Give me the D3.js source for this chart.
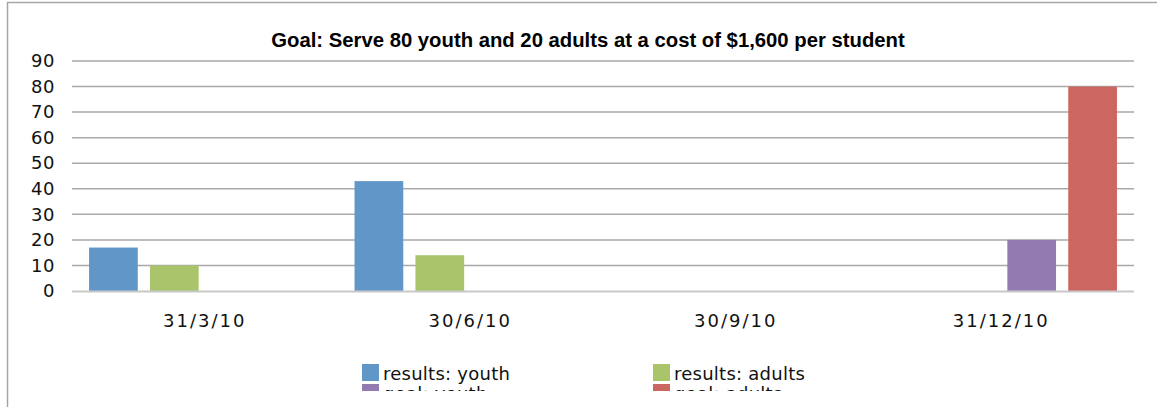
<!DOCTYPE html>
<html>
<head>
<meta charset="utf-8">
<script src="https://cdn.jsdelivr.net/npm/d3@7"></script>
<style>
  body { margin: 0; background: #fff; }
  svg { display: block; }
</style>
</head>
<body>
<div id="chart"></div>
<script>
const categories = ["31/3/10", "30/6/10", "30/9/10", "31/12/10"];
const seriesNames = ["results: youth", "results: adults", "goal: youth", "goal: adults"];
const resultsYouth = [17, 43, null, null];
const resultsAdults = [10, 14, null, null];
const goalYouth = [null, null, null, 20];
const goalAdults = [null, null, null, 80];
const seriesColors = ["#6196c9", "#a9c46b", "#937bb1", "#cc6660"];
const yTicks = [0, 10, 20, 30, 40, 50, 60, 70, 80, 90];
const title = "Goal: Serve 80 youth and 20 adults at a cost of $1,600 per student";

const W = 1157, H = 407;
const margin = {top: 61, right: 23, bottom: 116, left: 72};
const width = W - margin.left - margin.right,
      height = H - margin.top - margin.bottom;

const seriesValues = [resultsYouth, resultsAdults, goalYouth, goalAdults];

const svg = d3.select("#chart")
    .append("svg")
    .attr("width", W)
    .attr("height", H);

// frame
svg.append("path")
    .attr("d", `M7.5,${H} V2.5 H${W}`)
    .attr("fill", "none")
    .attr("stroke", "#a6a6a6")
    .attr("stroke-width", 1.5);

svg.append("defs").append("clipPath")
    .attr("id", "clip")
    .append("rect")
    .attr("x", 0).attr("y", 0)
    .attr("width", W).attr("height", 391);

const root = svg.append("g").attr("clip-path", "url(#clip)");

root.append("text")
    .attr("x", 588)
    .attr("y", 47)
    .attr("text-anchor", "middle")
    .style("font-family", "'Liberation Sans', Arial, sans-serif")
    .style("font-weight", "bold")
    .style("font-size", "20.3px")
    .style("fill", "#000")
    .text(title);

const g = root.append("g")
    .attr("transform", "translate(" + margin.left + "," + margin.top + ")");

const x0 = d3.scaleBand()
    .domain(categories)
    .range([0, width])
    .padding(0);

const x1 = d3.scaleBand()
    .domain(d3.range(seriesNames.length))
    .range([0, x0.bandwidth()])
    .paddingInner(0.2)
    .paddingOuter(0.28);

const y = d3.scaleLinear()
    .domain([0, 90])
    .range([height, 0]);

// gridlines
g.append("g")
    .selectAll("line")
    .data(yTicks.filter(d => d > 0))
    .enter()
    .append("line")
    .attr("x1", 0)
    .attr("x2", width)
    .attr("y1", d => y(d))
    .attr("y2", d => y(d))
    .attr("stroke", "#a9a9a9")
    .attr("stroke-width", 1.5);

// bars
seriesValues.forEach((vals, s) => {
    g.append("g")
        .selectAll("rect")
        .data(vals.map((v, i) => ({cat: categories[i], v: v})).filter(d => d.v != null))
        .enter()
        .append("rect")
        .attr("x", d => x0(d.cat) + x1(s))
        .attr("y", d => y(d.v))
        .attr("width", x1.bandwidth())
        .attr("height", d => height - y(d.v))
        .attr("fill", seriesColors[s]);
});

// baseline
g.append("line")
    .attr("x1", 0)
    .attr("x2", width)
    .attr("y1", y(0) + 0.5)
    .attr("y2", y(0) + 0.5)
    .attr("stroke", "#c8c8c8")
    .attr("stroke-width", 2);

// y axis labels
const yAxis = g.append("g")
    .call(d3.axisLeft(y).tickValues(yTicks).tickSize(0).tickPadding(17));
yAxis.select(".domain").remove();
yAxis.selectAll("text")
    .style("font-family", "'DejaVu Sans', Verdana, sans-serif")
    .style("font-size", "18px")
    .style("letter-spacing", "0.6px")
    .style("fill", "#111");

// x axis labels
const xAxis = g.append("g")
    .attr("transform", "translate(0," + height + ")")
    .call(d3.axisBottom(x0).tickSize(0).tickPadding(23));
xAxis.select(".domain").remove();
xAxis.selectAll("text")
    .style("font-family", "'DejaVu Sans', Verdana, sans-serif")
    .style("font-size", "18px")
    .style("letter-spacing", "2px")
    .style("fill", "#111");

// legend
const legendX = [362, 653], legendY = [364, 384];
const legend = root.append("g");
seriesNames.forEach((name, i) => {
    const lx = legendX[i % 2], ly = legendY[Math.floor(i / 2)];
    legend.append("rect")
        .attr("x", lx)
        .attr("y", ly)
        .attr("width", 17)
        .attr("height", 17)
        .attr("fill", seriesColors[i]);
    legend.append("text")
        .attr("x", lx + 21)
        .attr("y", ly + 16)
        .style("font-family", "'DejaVu Sans', Verdana, sans-serif")
        .style("font-size", "18px")
        .style("letter-spacing", "0.25px")
        .style("fill", "#111")
        .text(name);
});
</script>
</body>
</html>
